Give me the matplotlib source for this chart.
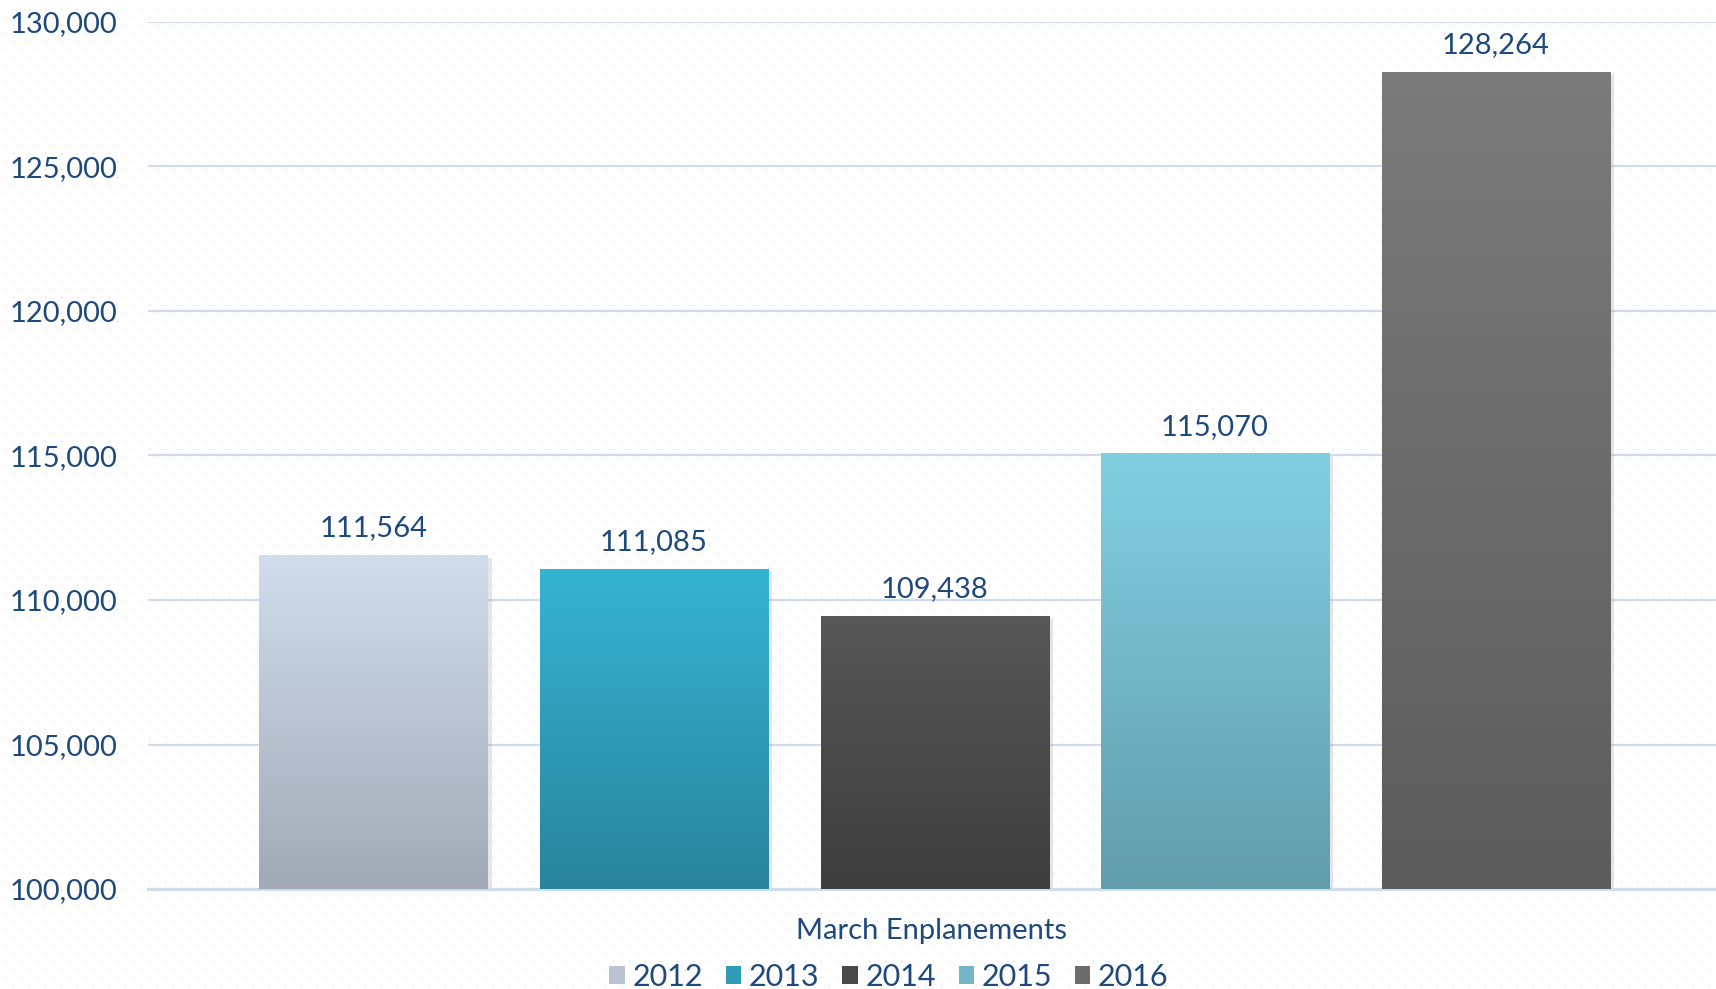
import numpy as np
import matplotlib
matplotlib.use("Agg")
import matplotlib.pyplot as plt
from matplotlib.patches import Patch
from matplotlib.colors import LinearSegmentedColormap, to_rgb, to_hex
from matplotlib.ticker import FuncFormatter
import matplotlib.patheffects as pe

years = ["2012", "2013", "2014", "2015", "2016"]
values = [111564, 111085, 109438, 115070, 128264]
top_colors = ["#d1ddec", "#36b4d3", "#575757", "#82cfe2", "#7b7b7b"]
bottom_colors = ["#a1a9b6", "#29849b", "#3e3e3e", "#629dac", "#5c5c5c"]
category = "March Enplanements"
y_ticks = [100000, 105000, 110000, 115000, 120000, 125000, 130000]

text_color = "#1f497d"
grid_color = "#cddcef"

plt.rcParams["font.family"] = ["Lato", "DejaVu Sans"]

W, H = 1716, 989
fig = plt.figure(figsize=(W / 100, H / 100), dpi=100)
fig.patch.set_facecolor("white")

# dotted background texture (staggered grey dots)
bg = np.ones((H, W, 3))
for i, yy in enumerate(range(9, H, 8)):
    start = 13 if i % 2 == 0 else 5
    bg[yy, start::16] = 0.80
fig.figimage(bg, xo=0, yo=0, origin="upper", zorder=-5)

ax = fig.add_axes([148 / W, 1 - 889 / H, 1 - 148 / W, (889 - 22) / H])
ax.set_facecolor("none")

x = np.arange(len(years))
bars = ax.bar(x, values, width=0.813, color=top_colors, zorder=2)
ylo = 100000

for b, c_top, c_bot in zip(bars, top_colors, bottom_colors):
    b.set_path_effects([pe.SimplePatchShadow(offset=(3, -2), shadow_rgbFace="#999999", alpha=0.25),
                        pe.Normal()])
    cmap = LinearSegmentedColormap.from_list("g", [c_bot, c_top])
    grad = np.linspace(0, 1, 256).reshape(-1, 1)
    bx, bw, bh = b.get_x(), b.get_width(), b.get_height()
    im = ax.imshow(grad, cmap=cmap, origin="lower", aspect="auto",
                   extent=[bx, bx + bw, ylo, bh], zorder=3)
    im.set_clip_path(b)
    ax.annotate(f"{bh:,.0f}", (bx + bw / 2, bh), xytext=(0, 13.5),
                textcoords="offset points", ha="center", va="baseline",
                fontsize=21, color=text_color, zorder=4)

ax.set_ylim(100000, 130000)
ax.set_xlim(-0.804, 4.786)
ax.set_yticks(y_ticks)
ax.yaxis.set_major_formatter(FuncFormatter(lambda v, p: f"{v:,.0f}"))
ax.tick_params(axis="y", length=0, pad=22, labelsize=21, labelcolor=text_color)
ax.set_xticks([])
ax.grid(axis="y", color=grid_color, lw=1.6, zorder=1)
ax.set_axisbelow(True)
for s in ["top", "right", "left"]:
    ax.spines[s].set_visible(False)
ax.spines["bottom"].set_color(grid_color)
ax.spines["bottom"].set_linewidth(2.2)

ax.set_xlabel(category, fontsize=21, color=text_color, va="center")
ax.xaxis.set_label_coords(0.5, (889 - 931) / (889 - 22))

mid_colors = [to_hex(np.mean([to_rgb(a), to_rgb(b)], axis=0))
              for a, b in zip(top_colors, bottom_colors)]
handles = [Patch(facecolor=c) for c in mid_colors]
fig.legend(handles, years, loc="center", bbox_to_anchor=(889 / W, 1 - 977 / H),
           ncol=5, frameon=False, fontsize=22, labelcolor=text_color,
           handlelength=0.5, handleheight=0.5, handletextpad=0.25,
           columnspacing=0.75, borderaxespad=0, borderpad=0)

fig.savefig("out.png", dpi=100)
